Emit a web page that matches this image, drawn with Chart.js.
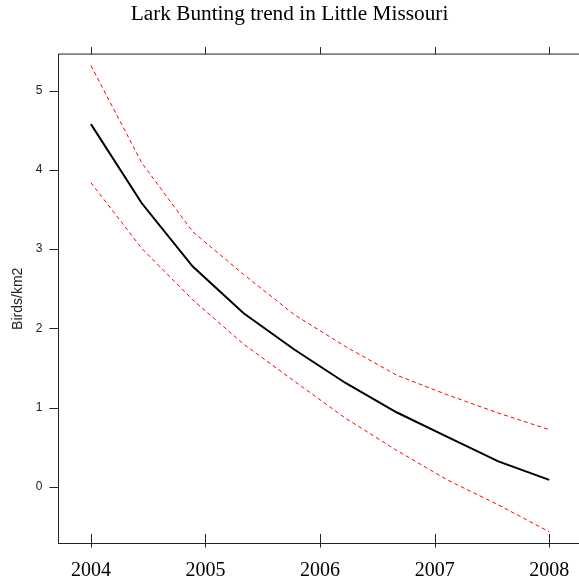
<!DOCTYPE html>
<html>
<head>
<meta charset="utf-8">
<script src="https://cdn.jsdelivr.net/npm/chart.js"></script>
<style>
    html, body { margin: 0; padding: 0; background: #fff; }
</style>
</head>
<body>
<canvas id="chart" width="579" height="584"></canvas>
<script>
const titol = "Lark Bunting trend in Little Missouri";
const etiquetaY = "Birds/km2";

// anys on s'avalua el model (10 punts entre 2004 i 2008)
const anys = [2004, 2004.444, 2004.889, 2005.333, 2005.778, 2006.222, 2006.667, 2007.111, 2007.556, 2008];
const tendencia = [4.58, 3.58, 2.78, 2.19, 1.73, 1.31, 0.94, 0.63, 0.32, 0.085];
const limitSuperior = [5.32, 4.09, 3.22, 2.68, 2.17, 1.77, 1.41, 1.16, 0.93, 0.72];
const limitInferior = [3.84, 3.01, 2.36, 1.80, 1.33, 0.865, 0.46, 0.085, -0.23, -0.57];

const ticksX = [2004, 2005, 2006, 2007, 2008];
const ticksY = [0, 1, 2, 3, 4, 5];

function punts(valors) {
    return anys.map((a, i) => ({ x: a, y: valors[i] }));
}

// marc del grafic i marques dels eixos, estil lattice
const marcPlugin = {
    id: 'marc',
    afterDraw(chart) {
        const { ctx, chartArea, scales } = chart;
        const { left, top, right, bottom } = chartArea;
        ctx.save();
        ctx.strokeStyle = '#222';
        ctx.lineWidth = 1;
        ctx.strokeRect(left, top, right - left + 5, bottom - top);
        ctx.beginPath();
        ticksX.forEach(v => {
            const px = Math.round(scales.x.getPixelForValue(v)) + 0.5;
            ctx.moveTo(px, bottom - 9.5);
            ctx.lineTo(px, bottom + 4);
            ctx.moveTo(px, top - 7);
            ctx.lineTo(px, top);
        });
        ticksY.forEach(v => {
            const py = Math.round(scales.y.getPixelForValue(v)) + 0.5;
            ctx.moveTo(left - 9, py);
            ctx.lineTo(left, py);
        });
        ctx.stroke();
        ctx.restore();
    }
};

const ctx = document.getElementById('chart');
const myChart = new Chart(ctx, {
    type: 'line',
    data: {
        datasets: [{
            label: 'Upper',
            data: punts(limitSuperior),
            borderColor: '#ff0000',
            borderWidth: 1,
            borderDash: [4, 3],
            pointRadius: 0,
            tension: 0
        }, {
            label: 'Lower',
            data: punts(limitInferior),
            borderColor: '#ff0000',
            borderWidth: 1,
            borderDash: [4, 3],
            pointRadius: 0,
            tension: 0
        }, {
            label: 'Trend',
            data: punts(tendencia),
            borderColor: '#000000',
            borderWidth: 2,
            pointRadius: 0,
            tension: 0
        }]
    },
    options: {
        responsive: false,
        animation: false,
        layout: { padding: 0 },
        plugins: {
            legend: { display: false },
            tooltip: { enabled: false },
            title: {
                display: true,
                text: titol,
                color: '#000',
                font: { family: 'Liberation Serif', size: 21.3, weight: 'normal', lineHeight: 1.2 },
                padding: { top: 1.5, bottom: 27 }
            }
        },
        scales: {
            x: {
                type: 'linear',
                min: 2003.717,
                max: 2008.26,
                afterBuildTicks: (eix) => { eix.ticks = ticksX.map(v => ({ value: v })); },
                afterFit: (eix) => {
                    eix.height = 40.5;
                    eix.paddingLeft = 0;
                    eix.paddingRight = 0;
                },
                ticks: {
                    color: '#000',
                    font: { family: 'Liberation Serif', size: 20 },
                    padding: 15,
                    maxRotation: 0,
                    autoSkip: false,
                    callback: (v) => String(v)
                },
                grid: { display: false, drawTicks: false },
                border: { display: false }
            },
            y: {
                type: 'linear',
                min: -0.718,
                max: 5.465,
                afterBuildTicks: (eix) => { eix.ticks = ticksY.map(v => ({ value: v })); },
                afterFit: (eix) => {
                    eix.width = 58.5;
                    eix.paddingTop = 0;
                    eix.paddingBottom = 0;
                },
                ticks: {
                    color: '#222',
                    font: { family: 'Liberation Sans', size: 12 },
                    padding: 16
                },
                title: {
                    display: true,
                    text: etiquetaY,
                    color: '#222',
                    font: { family: 'Liberation Sans', size: 14 },
                    padding: { top: 9.6, bottom: 0 }
                },
                grid: { display: false, drawTicks: false },
                border: { display: false }
            }
        }
    },
    plugins: [marcPlugin]
});
</script>
</body>
</html>
